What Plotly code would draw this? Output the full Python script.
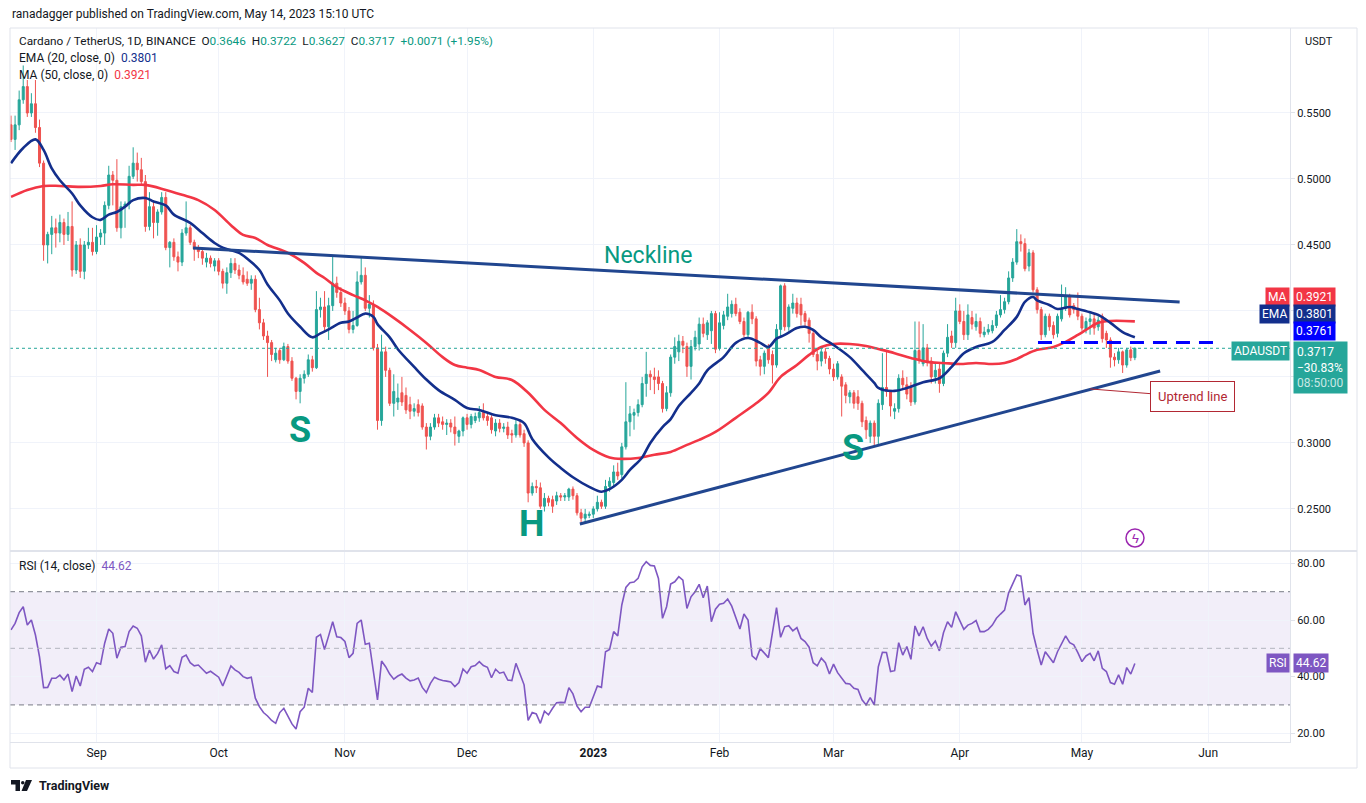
import pandas as pd
import plotly.graph_objects as go
from plotly.subplots import make_subplots

# ---------------------------------------------------------------- data
START = "2022-08-11"   # first daily candle

opens = [
    .541, .530, .541, .560, .570, .550, .557, .539, .512, .450, .458, .463, .459, .467, .458, .464, .431, .450, .430, .450, .452,
    .445, .456, .459, .480, .503, .499, .463, .479, .481, .502, .512, .507, .498, .464, .479, .467, .475, .486, .448, .452, .441, .437, .459, .463, .452, .447, .445, .437, .440, .434,
    .438, .430, .421, .429, .436, .431, .427, .424, .421, .424, .401, .391, .381, .376, .363, .370, .363, .373, .362, .349, .339, .349, .352, .363, .357, .401, .403, .388, .404, .421, .414,
    .406, .400, .386, .389, .422, .427, .402, .405, .372, .317, .369, .355, .330, .331, .338, .336, .329, .324, .329, .328, .312, .305, .312, .319, .316, .314, .315, .312, .305, .309,
    .319, .314, .317, .319, .323, .320, .319, .309, .315, .311, .312, .307, .306, .314, .307, .300, .262, .267, .266, .252, .258, .257, .256, .260, .259, .259, .265, .260, .247, .243, .245,
    .246, .250, .255, .252, .267, .270, .278, .276, .297, .316, .321, .323, .329, .345, .352, .350, .350, .345, .326, .338, .365, .369, .377, .373, .358, .373, .375, .390, .382, .385, .398,
    .372, .389, .396, .398, .405, .399, .392, .382, .399, .394, .363, .358, .372, .367, .359, .386, .419, .388, .402, .406, .405, .398, .393, .383, .367, .362, .369, .364,
    .356, .350, .350, .344, .335, .338, .335, .330, .317, .305, .315, .305, .329, .342, .339, .324, .326, .349, .344, .343, .331, .370, .360, .372, .362, .350, .356, .345, .368, .381, .376,
    .400, .392, .382, .395, .388, .392, .382, .384, .385, .389, .397, .401, .407, .425, .437, .4525, .451, .434, .444, .416, .401, .382, .396, .389, .383, .394, .402, .411, .404, .402,
    .396, .386, .392, .394, .388, .396, .383, .378, .365, .363, .369, .359, .3705, .3646,
]
highs = [
    .548, .548, .567, .586, .575, .565, .575, .545, .514, .460, .472, .470, .473, .470, .475, .483, .453, .455, .453, .463, .463,
    .465, .462, .483, .510, .506, .515, .483, .483, .510, .524, .520, .516, .503, .490, .484, .477, .490, .490, .453, .455, .445, .462, .483, .465, .454, .450, .448, .444, .442, .440,
    .440, .432, .433, .440, .440, .435, .433, .430, .427, .427, .410, .394, .385, .378, .372, .372, .376, .375, .365, .350, .352, .355, .367, .366, .415, .410, .415, .410, .441, .426, .418,
    .410, .403, .400, .430, .441, .433, .412, .408, .375, .382, .373, .357, .352, .345, .350, .342, .335, .330, .333, .330, .315, .315, .322, .322, .320, .318, .318, .320, .310, .320,
    .322, .322, .323, .328, .330, .322, .321, .318, .318, .315, .316, .310, .318, .316, .310, .302, .270, .272, .270, .262, .260, .260, .263, .262, .262, .266, .267, .262, .250, .250, .248,
    .252, .260, .257, .272, .274, .283, .285, .300, .346, .328, .326, .333, .350, .369, .355, .357, .355, .347, .343, .367, .380, .382, .381, .376, .378, .385, .395, .395, .393, .400, .400,
    .399, .400, .413, .408, .410, .402, .395, .400, .405, .396, .366, .370, .375, .370, .390, .420, .421, .405, .413, .410, .410, .400, .395, .386, .370, .372, .372, .366,
    .360, .362, .352, .346, .340, .340, .340, .332, .320, .317, .317, .333, .368, .370, .340, .330, .352, .355, .350, .346, .392, .392, .390, .375, .365, .360, .360, .370, .390, .385, .410,
    .405, .400, .405, .400, .398, .395, .388, .390, .393, .400, .412, .410, .430, .440, .462, .458, .455, .447, .446, .418, .403, .398, .398, .392, .398, .420, .418, .413, .406, .414,
    .398, .395, .400, .398, .396, .398, .385, .380, .368, .372, .370, .372, .373, .3722,
]
lows = [
    .528, .522, .537, .557, .547, .547, .535, .509, .438, .436, .443, .448, .452, .450, .453, .426, .428, .425, .424, .447, .442,
    .443, .450, .450, .477, .480, .460, .455, .463, .477, .500, .498, .495, .460, .461, .455, .457, .473, .446, .433, .438, .430, .434, .457, .450, .438, .440, .435, .433, .433, .430,
    .427, .417, .413, .425, .428, .424, .420, .419, .416, .399, .386, .378, .350, .362, .361, .360, .362, .360, .347, .333, .330, .345, .350, .354, .356, .395, .385, .378, .400, .410, .403,
    .397, .383, .383, .388, .420, .400, .395, .370, .310, .313, .350, .328, .320, .325, .328, .322, .318, .320, .320, .310, .295, .302, .310, .312, .310, .306, .308, .298, .300, .305,
    .310, .311, .315, .316, .317, .313, .307, .305, .308, .308, .303, .300, .304, .304, .297, .255, .260, .262, .250, .248, .252, .247, .253, .256, .256, .256, .257, .245, .238, .240, .243,
    .243, .248, .250, .250, .263, .267, .272, .273, .295, .305, .310, .320, .327, .335, .340, .337, .340, .323, .324, .335, .360, .362, .368, .350, .348, .370, .370, .380, .378, .375, .368,
    .370, .386, .393, .395, .396, .390, .380, .380, .390, .358, .351, .352, .360, .345, .357, .380, .385, .385, .398, .395, .389, .388, .376, .365, .355, .358, .360, .352,
    .347, .348, .320, .330, .330, .326, .325, .312, .303, .300, .298, .299, .325, .335, .320, .318, .323, .340, .333, .328, .329, .360, .358, .358, .345, .345, .338, .343, .365, .372, .372,
    .390, .378, .378, .386, .385, .380, .380, .382, .383, .387, .395, .398, .405, .422, .435, .445, .430, .430, .414, .398, .378, .380, .385, .379, .380, .392, .400, .395, .398, .393,
    .385, .383, .382, .382, .385, .376, .372, .357, .358, .360, .353, .357, .362, .3627,
]
closes = [
    .530, .541, .560, .570, .550, .557, .539, .512, .450, .458, .463, .459, .467, .458, .464, .431, .450, .430, .450, .452, .445,
    .456, .459, .480, .503, .499, .463, .479, .481, .502, .512, .507, .498, .464, .479, .467, .475, .486, .448, .452, .441, .437, .459, .463, .452, .447, .445, .440, .440, .436, .438,
    .430, .421, .429, .436, .431, .427, .422, .421, .424, .401, .391, .381, .376, .367, .368, .363, .373, .362, .349, .339, .349, .352, .363, .357, .401, .403, .388, .404, .421, .414, .406,
    .400, .386, .389, .422, .427, .402, .405, .372, .317, .369, .355, .330, .339, .334, .331, .325, .324, .326, .323, .312, .305, .312, .319, .315, .314, .315, .312, .307, .309, .319,
    .314, .320, .320, .323, .319, .317, .310, .315, .311, .312, .306, .306, .314, .306, .300, .262, .267, .266, .252, .258, .255, .252, .260, .259, .260, .265, .260, .247, .243, .246, .246,
    .250, .255, .252, .267, .271, .278, .275, .297, .316, .322, .323, .329, .345, .352, .350, .348, .345, .326, .338, .365, .373, .377, .374, .358, .373, .380, .390, .383, .391, .398, .371,
    .391, .397, .403, .405, .398, .392, .382, .399, .394, .362, .358, .368, .363, .359, .386, .419, .388, .403, .406, .398, .397, .392, .383, .367, .362, .369, .364, .356,
    .350, .360, .343, .336, .338, .330, .330, .316, .310, .315, .305, .330, .342, .339, .328, .326, .349, .344, .337, .331, .370, .363, .372, .362, .350, .355, .345, .368, .380, .376, .400,
    .392, .382, .397, .390, .392, .383, .384, .386, .389, .397, .401, .407, .425, .437, .4525, .451, .432, .444, .416, .401, .382, .396, .388, .382, .396, .402, .411, .397, .401, .396,
    .387, .392, .394, .387, .393, .379, .378, .365, .363, .369, .359, .3705, .3646, .3717,
]

# EMA 20 / MA 50 (candle index, value)
ema_idx = [0, 3, 6, 8, 10, 12, 15, 17, 20, 22, 24, 26, 28, 30, 33, 35, 38, 40, 44, 47, 50, 52, 54, 56, 59, 61,
           63, 66, 68, 71, 74, 76, 78, 81, 83, 85, 87, 89, 90, 93, 95, 99, 102, 105, 109, 112, 115, 119, 123,
           126, 128, 132, 135, 138, 142, 145, 147, 150, 152, 155, 157, 160, 162, 164, 167, 169, 171, 175, 178,
           181, 184, 186, 188, 190, 193, 195, 197, 199, 202, 206, 209, 212, 213, 217, 220, 224, 228, 231, 234,
           237, 241, 244, 247, 249, 251, 252, 255, 257, 260, 262, 265, 267, 270, 273, 276]
ema_vals = [.512, .5235, .530, .522, .508, .499, .489, .480, .471, .469, .473, .475, .479, .484, .4856, .483, .480,
            .473, .4667, .459, .4515, .448, .446, .444, .437, .431, .420, .408, .398, .388, .380, .383, .386, .391,
            .392, .395, .398, .3955, .390, .380, .371, .3576, .348, .340, .3326, .3265, .325, .321, .319, .315,
            .303, .289, .281, .274, .2667, .263, .265, .272, .2795, .289, .300, .312, .318, .328, .338, .345,
            .355, .365, .3758, .3795, .3758, .3727, .379, .3818, .387, .388, .3856, .380, .3742, .365, .3553,
            .3455, .3417, .3394, .3417, .346, .349, .3576, .368, .3727, .3765, .3856, .3955, .4068, .4106, .408,
            .4045, .4015, .403, .4015, .399, .397, .391, .384, .3801]
ma_idx = [0, 4, 8, 12, 17, 22, 25, 30, 33, 38, 42, 46, 50, 54, 57, 60, 63, 68, 72, 75, 77, 80, 84, 87, 90, 94,
          98, 102, 106, 109, 112, 115, 119, 123, 127, 131, 135, 139, 143, 147, 150, 154, 158, 162, 166, 169,
          173, 178, 183, 186, 189, 193, 196, 199, 202, 206, 210, 213, 217, 221, 225, 229, 233, 237, 241, 244,
          247, 249, 252, 256, 259, 262, 264, 267, 270, 276]
ma_vals = [.4864, .4917, .4947, .4947, .494, .4947, .496, .4955, .4955, .4917, .488, .484, .4765, .465, .4576,
           .4553, .450, .444, .4364, .4288, .425, .418, .412, .408, .403, .3947, .3856, .3758, .365, .359, .357,
           .3553, .350, .3477, .338, .325, .315, .3038, .2947, .289, .2879, .2886, .291, .2932, .2985, .3023,
           .3083, .319, .330, .3379, .350, .359, .3667, .3727, .375, .375, .3735, .3712, .368, .3644, .3614,
           .3606, .3598, .3606, .3598, .3606, .3636, .3667, .3705, .3727, .3765, .3818, .3856, .391, .3924, .3921]

# RSI 14, one value per candle
rsi_vals = [
    56.5, 58.8, 62.6, 64.7, 58.2, 60, 54.7, 47, 36.1, 36.2, 39.4, 39.4, 40.5, 38.8, 40.9, 34.7, 40.2, 36.7, 42.6, 43.3, 41.8,
    44.9, 44.4, 51.8, 56.8, 55.3, 46.5, 50.4, 50.6, 55.9, 57.9, 57.1, 54.4, 45.1, 49.4, 46.2, 48.2, 51.2, 42.8, 43.9, 41.8, 41.2, 46.8, 47.6, 44.9, 43.8, 44.1, 42.6, 41.2, 41.9, 40.9,
    39.8, 36.7, 40.2, 43.8, 42.4, 41.5, 40, 39.4, 39.8, 32.4, 29.4, 27.3, 26.1, 24.5, 23.5, 27.3, 28.8, 26.2, 23.3, 21.5, 27.6, 29.2, 35.9, 34.4, 53.9, 54.9, 49.6, 54.4, 59.4, 54.1, 53.8,
    52.4, 46.7, 48.2, 58.8, 60, 51.4, 51.8, 42.4, 31.8, 45.5, 43.5, 40.9, 39.1, 40.2, 40.9, 39.5, 38.5, 38.8, 39.5, 36.2, 34.4, 37.6, 39.8, 39.1, 38.6, 38.4, 38.1, 36.5, 37.9, 42.7,
    41.2, 43.5, 43.9, 45.3, 43.9, 43.3, 39.6, 42.6, 41.2, 41.6, 38.8, 38.6, 44.7, 40.9, 37.1, 24.5, 27.3, 26.8, 23.5, 27.8, 26.5, 28.8, 30.8, 30.9, 30.8, 36.1, 33.9, 29.6, 27.6, 29.2, 29.2,
    32.9, 36.7, 36.2, 48.8, 49.6, 55.9, 54.4, 65.3, 71.5, 73.2, 73.4, 74.7, 78.8, 80.6, 79.3, 79.1, 74.7, 60.6, 64.7, 72.7, 73.5, 75.3, 74.1, 64.1, 68.2, 70, 72.6, 67.9, 72, 59.4, 63.8,
    65.6, 65.9, 67.4, 64.9, 61.2, 56.8, 62.1, 60, 47.3, 46.1, 49.9, 48.2, 46.7, 55.5, 64.4, 53.9, 57.6, 58, 56.2, 57.3, 53.5, 52.4, 50.4, 44.9, 43.8, 46.5, 44.9, 40.9,
    44.4, 41.4, 39.4, 37.6, 37.4, 35.9, 35.5, 31.8, 30, 32.6, 30, 43.5, 48.6, 48.5, 41.8, 42.1, 52, 47.6, 50.6, 46.1, 57.9, 54.4, 57.6, 53.5, 50.8, 52.6, 49.1, 55.5, 59.4, 57.4, 62.9,
    60, 56.7, 58.2, 58.8, 59.8, 55.9, 55.9, 56.7, 58.2, 60.6, 62.1, 63.5, 69.6, 72.9, 75.9, 75.5, 65.3, 67.9, 55.3, 49.4, 44.1, 48.8, 46.8, 44.9, 48.8, 51.5, 54.4, 52, 51.2, 48.5,
    45.3, 47.3, 48.2, 45.6, 49.1, 42.9, 41.8, 37.9, 37.3, 40.6, 37.3, 43.2, 40.9, 44.62,
]

# drawings on the chart
neck_dates = ["2022-09-24 17:00", "2023-05-25 00:00"]
neck_prices = [0.4477, 0.4068]
trend_dates = ["2022-12-28 17:00", "2023-05-20 05:00"]
trend_prices = [0.2386, 0.3545]
level_dates = ["2023-04-20 05:00", "2023-06-02 17:00"]
level_price = 0.3761

month_ticks = ["2022-09-01", "2022-10-01", "2022-11-01", "2022-12-01", "2023-01-01",
               "2023-02-01", "2023-03-01", "2023-04-01", "2023-05-01", "2023-06-01"]
month_labels = ["Sep", "Oct", "Nov", "Dec", "<b>2023</b>", "Feb", "Mar", "Apr", "May", "Jun"]
price_ticks = [0.25, 0.30, 0.35, 0.40, 0.45, 0.50, 0.55]
rsi_ticks = [20, 40, 60, 80]

# ---------------------------------------------------------------- style
UP = "#26a69a"
DOWN = "#ef5350"
EMA_C = "#132f8c"
MA_C = "#f23645"
LINE_C = "#21468f"
RSI_C = "#7e57c2"
TXT = "#131722"
GRID = "#f0f3fa"
BORDER = "#e0e3eb"
LABEL_C = "#089981"
FONT = "Roboto, sans-serif"

# the page body has an 8px margin, so the figure is a bit smaller than the window
OFF = 8
W, H = 1366 - 2 * OFF, 803 - 2 * OFF
PL, PR, PT, PB = 10, 1290, 28, 742   # plot area, in window pixels


def px(x):
    return (x - PL) / (PR - PL)


def py(y):
    return (PB - y) / (PB - PT)


dates = pd.date_range(START, periods=len(closes), freq="D")
last = len(dates) - 1
ema_x = [dates[min(i, last)] for i in ema_idx]
ma_x = [dates[min(i, last)] for i in ma_idx]

fig = make_subplots(rows=2, cols=1, shared_xaxes=True, vertical_spacing=0.003,
                    row_heights=[522, 190])

fig.add_trace(go.Candlestick(
    x=dates, open=opens, high=highs, low=lows, close=closes,
    increasing=dict(line=dict(color=UP, width=1), fillcolor=UP),
    decreasing=dict(line=dict(color=DOWN, width=1), fillcolor=DOWN),
    whiskerwidth=0, hoverinfo="skip", showlegend=False), row=1, col=1)

fig.add_trace(go.Scatter(x=ma_x, y=ma_vals, mode="lines", line=dict(color=MA_C, width=2.6, shape="spline"),
                         hoverinfo="skip", showlegend=False), row=1, col=1)
fig.add_trace(go.Scatter(x=ema_x, y=ema_vals, mode="lines", line=dict(color=EMA_C, width=2.6, shape="spline"),
                         hoverinfo="skip", showlegend=False), row=1, col=1)

fig.add_trace(go.Scatter(x=dates[:len(rsi_vals)], y=rsi_vals, mode="lines",
                         line=dict(color=RSI_C, width=1.6), hoverinfo="skip", showlegend=False), row=2, col=1)

shapes = [
    # rsi band and levels
    dict(type="rect", xref="x2 domain", yref="y2", x0=0, x1=1, y0=30, y1=70,
         fillcolor="rgba(126,87,194,0.1)", line=dict(width=0), layer="below"),
    dict(type="line", xref="x2 domain", yref="y2", x0=0, x1=1, y0=70, y1=70,
         line=dict(color="#787b86", width=1, dash="5px,4px")),
    dict(type="line", xref="x2 domain", yref="y2", x0=0, x1=1, y0=50, y1=50,
         line=dict(color="#b2b5be", width=1, dash="5px,4px")),
    dict(type="line", xref="x2 domain", yref="y2", x0=0, x1=1, y0=30, y1=30,
         line=dict(color="#787b86", width=1, dash="5px,4px")),
    # last price line
    dict(type="line", xref="x domain", yref="y", x0=0, x1=1, y0=closes[-1], y1=closes[-1],
         line=dict(color=UP, width=1, dash="dot")),
    # neckline, uptrend line, horizontal level
    dict(type="line", xref="x", yref="y", x0=neck_dates[0], x1=neck_dates[1],
         y0=neck_prices[0], y1=neck_prices[1], line=dict(color=LINE_C, width=3)),
    dict(type="line", xref="x", yref="y", x0=trend_dates[0], x1=trend_dates[1],
         y0=trend_prices[0], y1=trend_prices[1], line=dict(color=LINE_C, width=3)),
    dict(type="line", xref="x", yref="y", x0=level_dates[0], x1=level_dates[1],
         y0=level_price, y1=level_price, line=dict(color="#0000ff", width=3, dash="14px,9px")),
    # pane separator and frame
    dict(type="line", xref="paper", yref="paper", x0=px(PL), x1=px(1357), y0=py(551), y1=py(551),
         line=dict(color=BORDER, width=2)),
    dict(type="rect", xref="paper", yref="paper", x0=px(PL), x1=px(1357), y0=py(768), y1=py(PT),
         line=dict(color=BORDER, width=1)),
    # lightning badge
    dict(type="circle", xref="paper", yref="paper", x0=px(1126), x1=px(1144), y0=py(547), y1=py(529),
         line=dict(color="#9c27b0", width=1.5)),
    # tradingview logo
    dict(type="path", xref="paper", yref="paper", fillcolor=TXT, line=dict(width=0),
         path=f"M {px(11)} {py(780)} L {px(20)} {py(780)} L {px(20)} {py(791)} L {px(15.5)} {py(791)} "
              f"L {px(15.5)} {py(784.5)} L {px(11)} {py(784.5)} Z"),
    dict(type="circle", xref="paper", yref="paper", fillcolor=TXT, line=dict(width=0),
         x0=px(21), x1=px(24.5), y0=py(784.5), y1=py(781)),
    dict(type="path", xref="paper", yref="paper", fillcolor=TXT, line=dict(width=0),
         path=f"M {px(26)} {py(780)} L {px(32)} {py(780)} L {px(27)} {py(791)} L {px(21.5)} {py(791)} Z"),
]

chg = closes[-1] - closes[-2]
pct = chg / closes[-2] * 100
g = lambda v: f'<span style="color:{LABEL_C}">{v}</span>'
sp = "\u00a0\u00a0"
line1 = ("Cardano / TetherUS, 1D, BINANCE" + sp + "O" + g(f"{opens[-1]:.4f}") + sp + "H" + g(f"{highs[-1]:.4f}")
         + sp + "L" + g(f"{lows[-1]:.4f}") + sp + "C" + g(f"{closes[-1]:.4f}") + sp
         + g(f"{chg:+.4f} ({pct:+.2f}%)"))

ann = []


def text(x, y, s, size=12, color=TXT, xa="left", ya="middle", **kw):
    ann.append(dict(xref="paper", yref="paper", x=px(x), y=py(y), text=s, showarrow=False,
                    xanchor=xa, yanchor=ya, font=dict(family=FONT, size=size, color=color), **kw))


text(PL, 14, "ranadagger published on TradingView.com, May 14, 2023 15:10 UTC", size=12)
text(17, 41, line1, size=11.8)
text(17, 58, f'EMA (20, close, 0){sp}<span style="color:{EMA_C}">{ema_vals[-1]:.4f}</span>')
text(17, 75, f'MA (50, close, 0){sp}<span style="color:{MA_C}">{ma_vals[-1]:.4f}</span>')
text(17, 566, f'RSI (14, close){sp}<span style="color:{RSI_C}">{rsi_vals[-1]:.2f}</span>')
text(1303, 41, "USDT", size=11)
text(37, 785, "<b>TradingView</b>", size=12.5)
text(1135, 538, "ϟ", size=13, color="#9c27b0", xa="center")


# price scale badges
def badge(y, name, value, color, ya="middle"):
    if name:
        text(1290, y, name, size=12, color="white", xa="right", ya=ya, bgcolor=color, borderpad=2)
    text(1293, y, value, size=12, color="white", xa="left", ya=ya, bgcolor=color, borderpad=2, align="left")


badge(297, "MA", f"{ma_vals[-1]:.4f}", MA_C)
badge(314, "EMA", f"{ema_vals[-1]:.4f}", EMA_C)
badge(331, None, f"{level_price:.4f}", "#0000ff")
text(1290, 341, "ADAUSDT", size=12, color="white", xa="right", ya="top", bgcolor=UP, borderpad=2)
text(1293, 341, f'{closes[-1]:.4f}<br>−30.83%<br><span style="color:rgba(255,255,255,0.75)">08:50:00</span>',
     size=12, color="white", xa="left", ya="top", bgcolor=UP, borderpad=3, align="left")
badge(663, "RSI", f"{rsi_vals[-1]:.2f}", RSI_C)

# pattern labels
for d, p, s, size in [("2022-10-21 00:00", 0.3098, "<b>S</b>", 36),
                      ("2022-12-16 17:00", 0.2386, "<b>H</b>", 36),
                      ("2023-03-05 19:00", 0.2962, "<b>S</b>", 36),
                      ("2023-01-14 10:00", 0.4417, "Neckline", 23)]:
    ann.append(dict(xref="x", yref="y", x=d, y=p, text=s, showarrow=False,
                    font=dict(family=FONT, size=size, color=LABEL_C)))

ann.append(dict(xref="x", yref="y", x="2023-05-03", y=0.3409, text="Uptrend line", showarrow=True,
                arrowhead=0, arrowwidth=1, arrowcolor="#b22833", ax=102, ay=8,
                font=dict(family=FONT, size=13, color="#b22833"), bgcolor="white",
                bordercolor="#b22833", borderwidth=1, borderpad=7))

fig.update_layout(
    width=W, height=H,
    margin=dict(l=PL - OFF, r=W - (PR - OFF), t=PT - OFF, b=H - (PB - OFF)),
    paper_bgcolor="white", plot_bgcolor="white", showlegend=False,
    font=dict(family=FONT, size=12, color=TXT),
    shapes=shapes, annotations=ann,
)

xr = ["2022-08-10 18:00", "2023-06-21 02:24"]
fig.update_xaxes(type="date", range=xr, tickvals=month_ticks, ticktext=month_labels,
                 showgrid=True, gridcolor=GRID, gridwidth=1, zeroline=False,
                 rangeslider_visible=False, ticks="", tickfont=dict(size=12, color=TXT))
fig.update_xaxes(showticklabels=False, row=1, col=1)
fig.update_xaxes(showline=True, linecolor=BORDER, row=2, col=1)

fig.update_yaxes(side="right", showgrid=True, gridcolor=GRID, zeroline=False,
                 showline=True, linecolor=BORDER, ticks="outside", ticklen=4, tickcolor=BORDER,
                 tickfont=dict(size=11, color=TXT))
fig.update_yaxes(domain=[0.269, 1], range=[0.2189, 0.6144], tickvals=price_ticks,
                 ticktext=["" if t in (0.35, 0.40) else f"{t:.4f}" for t in price_ticks], row=1, col=1)
fig.update_yaxes(domain=[0, 0.266], range=[16.9, 84.0], tickvals=rsi_ticks,
                 ticktext=[f"{t:.2f}" for t in rsi_ticks], row=2, col=1)

fig.write_html("out.html")
